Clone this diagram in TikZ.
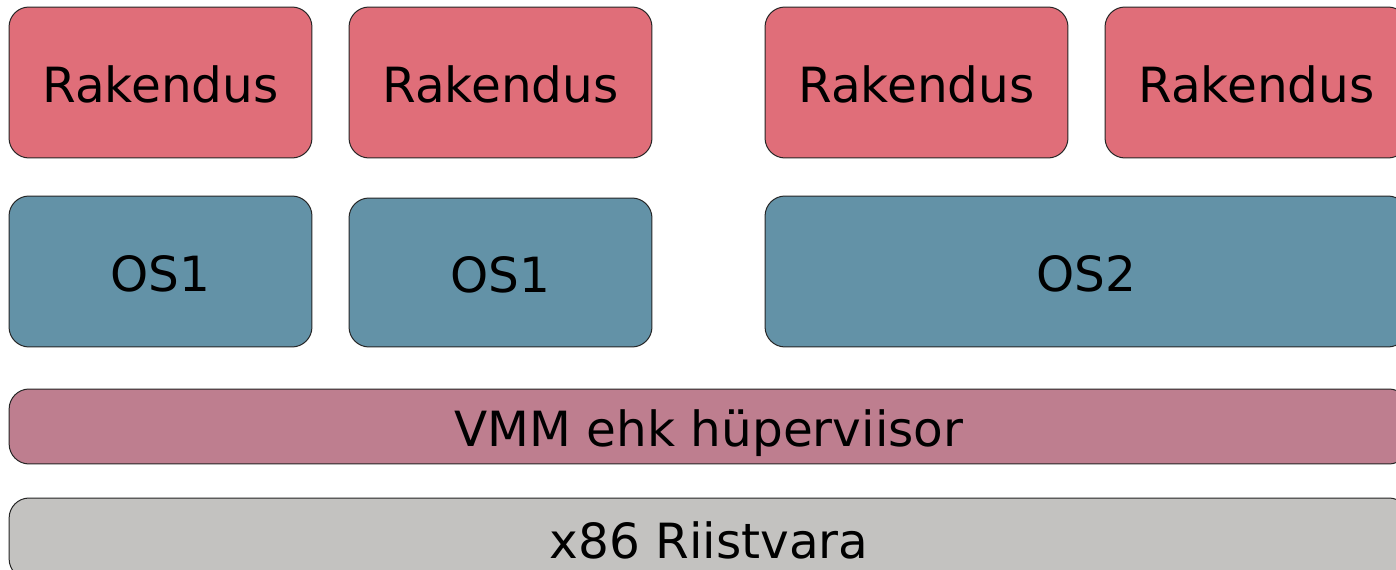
\documentclass[tikz,border=0pt]{standalone}
\usepackage{fontspec}
\setmainfont{DejaVu Sans}
\definecolor{appred}{RGB}{224,110,121}
\definecolor{osblue}{RGB}{99,146,167}
\definecolor{vmmpink}{RGB}{190,126,143}
\definecolor{hwgray}{RGB}{195,194,192}
\tikzset{
    layer/.style={draw=black!85, line width=0.02cm, rounded corners=0.4cm, inner sep=0pt,
        text height=0.79cm, text depth=0cm, font=\fontsize{27.6}{32}\selectfont},
    app/.style={layer, fill=appred, minimum width=6.06cm, minimum height=3.02cm},
    os/.style={layer, fill=osblue, minimum height=3.02cm},
    vmm/.style={layer, fill=vmmpink, minimum width=28cm, minimum height=1.5cm},
    hw/.style={layer, fill=hwgray, minimum width=28cm, minimum height=1.62cm}
}
\begin{document}
\begin{tikzpicture}[x=0.02cm, y=-0.02cm]
    \clip (0,0) rectangle (1396,570);
    
    \node[app] (app1) at (160.5,82.5) {Rakendus};
    \node[app] (app2) at (500.5,82.5) {Rakendus};
    \node[app] (app3) at (916.5,82.5) {Rakendus};
    \node[app] (app4) at (1256.5,82.5) {Rakendus};
    
    \node[os, minimum width=6.06cm] (os1a) at (160.5,271.5) {OS1};
    \node[os, minimum width=6.06cm, minimum height=2.98cm] (os1b) at (500.5,272.5) {OS1};
    \node[os, minimum width=12.86cm] (os2) at (1086.5,271.5) {OS2};
    
    \node[vmm] (vmm) at (709,426.5) {VMM ehk hüperviisor};
    \node[hw] (hw) at (709,538.5) {x86 Riistvara};
    
\end{tikzpicture}
\end{document}
